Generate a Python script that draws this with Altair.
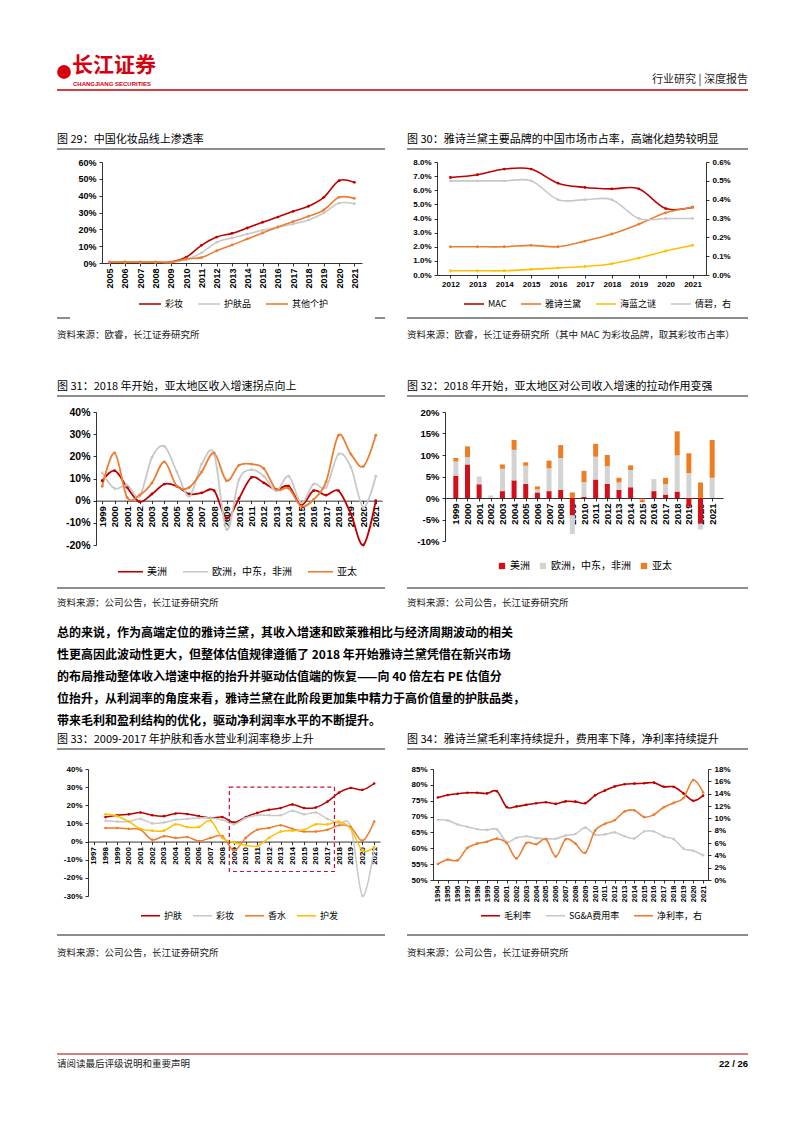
import altair as alt
import pandas as pd

FCN = "Noto Sans CJK SC"
FNUM = "Liberation Sans"
RED = "#C00000"
GRAY = "#C8C8C8"
ORANGE = "#ED7D31"
YELLOW = "#FFC000"
BAR_RED = "#D0101B"
BAR_GRAY = "#D3D3D3"
BAR_ORANGE = "#EE7D22"
INK = "#000000"

# ---------------- data ----------------
# 图29
years29 = list(range(2005, 2022))
names29 = ["彩妆", "护肤品", "其他个护"]
makeup29 = [0.5, 0.5, 0.5, 0.5, 0.5, 3.4, 10.5, 15.4, 17.6, 20.8, 24.2, 27.3, 30.7, 33.7, 39.0, 48.9, 47.9]
skin29 = [0.5, 0.5, 0.5, 0.5, 0.5, 2.0, 6.0, 12.3, 14.9, 17.2, 19.4, 21.2, 23.2, 25.5, 29.7, 35.6, 35.2]
care29 = [0.5, 0.5, 0.5, 0.5, 0.5, 2.4, 3.2, 7.3, 10.7, 14.3, 17.8, 21.4, 24.6, 27.7, 31.5, 39.0, 38.4]

# 图30
years30 = list(range(2012, 2022))
names30 = ["MAC", "雅诗兰黛", "海蓝之谜", "倩碧，右"]
mac30 = [6.9, 7.1, 7.5, 7.5, 6.5, 6.2, 6.1, 6.1, 4.7, 4.8]
el30 = [2.0, 2.0, 2.0, 2.1, 2.0, 2.4, 2.9, 3.6, 4.4, 4.8]
lamer30 = [0.3, 0.3, 0.3, 0.4, 0.5, 0.6, 0.8, 1.2, 1.7, 2.1]
clinique30 = [0.5, 0.5, 0.5, 0.5, 0.4, 0.4, 0.4, 0.3, 0.3, 0.3]

# 图31
years31 = list(range(1999, 2022))
names31 = ["美洲", "欧洲，中东，非洲", "亚太"]
am31 = [9, 13.5, 6, -0.5, 3, 7.5, 6.5, 3, 3.5, 4.5, -8, 1, 10.5, 8, 5, 6.5, -2, 4.5, 2.5, 4.5, -6, -20, 0]
eu31 = [12.5, 5.5, 7, 2, 19.5, 24.5, 13, 2, 16.5, 21, -13, 9.5, 14, 11, 4.5, 11, -1, 7.5, 6, 21, 15, -3, 11]
ap31 = [6.5, 21.5, 1.5, 2.5, 8, 17.5, 6.5, 6, 13, 21.5, 9, 16, 16.5, 14.5, 5, 5.5, -2.5, 0.5, 8.5, 29.5, 21, 15.5, 29.5]

# 图32
years32 = list(range(1999, 2022))
names32 = ["美洲", "欧洲，中东，非洲", "亚太"]
am32 = [5.2, 7.8, 3.2, 0, 1.6, 4.1, 3.3, 1.3, 1.6, 1.9, -4.0, 0.3, 4.3, 3.3, 1.9, 2.5, -0.3, 1.6, 0.8, 1.5, -2.0, -6.0, 0]
eu32 = [3.3, 1.7, 1.8, 0.6, 5.2, 7.1, 4.2, 0.7, 5.3, 7.4, -4.4, 3.4, 5.3, 4.1, 1.7, 4.0, -0.2, 2.8, 2.4, 8.4, 5.8, -1.3, 4.7]
ap32 = [0.8, 2.5, 0, 0, 1.0, 2.3, 0.8, 0.7, 1.8, 3.0, 1.3, 2.6, 3.0, 2.6, 1.1, 1.1, -0.5, 0, 1.5, 5.6, 4.6, 3.6, 8.8]

# 图33
years33 = list(range(1997, 2022))
names33 = ["护肤", "彩妆", "香水", "护发"]
skin33 = [None, 13.5, 14.5, 15, 16, 14.5, 14, 15.5, 15.2, 14, 13, 13.5, 10.5, 13.5, 15.8, 17.5, 18.5, 20.5, 18.5, 18.8, 22, 27, 29.5, 28.5, 32]
makeup33 = [None, 11.5, 11, 11, 12.5, 10, 10.5, 12, 12.5, 13, 13, 12, 9.5, 13, 14.5, 14.5, 14.5, 17, 15, 16, 12.5, 10, 8, -30, -4]
perfume33 = [None, 7.5, 7.5, 7, 6.5, 1, 3, 2, 2.5, 0.3, 2, 3, -5, 2, 6.5, 7.5, 9, 7, 5.5, 5.5, 6.5, 9, 8, 0.5, 11]
hair33 = [None, 15, 14, 11, 7, 6, 6, 9.5, 8, 8, 11.5, 2, -0.5, -2, -2.5, 2, 5.5, 6, 6.5, 9.5, 9.5, 11, 7, -5, -3]
box33_years = [2008.6, 2017.6]
box33_vals = [30, -16.5]

# 图34
years34 = list(range(1994, 2022))
names34 = ["毛利率", "SG&A费用率", "净利率，右"]
gm34 = [76, 76.8, 77.2, 77.5, 77.5, 77.3, 78, 73, 73.2, 73.7, 74.2, 74.5, 74, 74.8, 74.7, 74.2, 76.7, 78.2, 79.5, 80.2, 80.4, 80.5, 80.7, 79.4, 79.4, 77.3, 75, 76.6]
sga34 = [69, 68.8, 67.5, 66.8, 66, 65.8, 66, 62, 63.3, 63.8, 63.2, 63, 63, 64, 64.5, 66.5, 64.3, 64.4, 65, 63.8, 63.1, 65.3, 65.3, 63.7, 62.9, 59.9, 59.2, 57.8]
np34 = [2.6, 3.3, 3.2, 5.2, 5.9, 6.2, 6.7, 6.0, 3.5, 6.0, 5.8, 6.6, 3.8, 6.6, 5.9, 4.4, 8.0, 9.1, 9.7, 11.1, 11.3, 10.2, 10.6, 11.8, 12.5, 13.3, 16.2, 14.2]

# texts
para_lines = [
    "总的来说，作为高端定位的雅诗兰黛，其收入增速和欧莱雅相比与经济周期波动的相关",
    "性更高因此波动性更大，但整体估值规律遵循了 2018 年开始雅诗兰黛凭借在新兴市场",
    "的布局推动整体收入增速中枢的抬升并驱动估值端的恢复——向 40 倍左右 PE 估值分",
    "位抬升，从利润率的角度来看，雅诗兰黛在此阶段更加集中精力于高价值量的护肤品类，",
    "带来毛利和盈利结构的优化，驱动净利润率水平的不断提升。",
]

DUMMY = pd.DataFrame({"d": [0]})


def long(years, names, arrays):
    rows = []
    for name, vals in zip(names, arrays):
        for yv, v in zip(years, vals):
            if v is not None:
                rows.append({"year": yv, "v": v, "s": name})
    return pd.DataFrame(rows)


def txt(s, x, y, size=9.5, align="left", weight="normal", color=INK, font=FCN):
    return alt.Chart(DUMMY).mark_text(
        text=s, align=align, baseline="middle", fontSize=size, fontWeight=weight, color=color, font=font
    ).encode(x=alt.value(x), y=alt.value(y))


def hline(x1, x2, y, color=INK, w=1.0):
    return alt.Chart(DUMMY).mark_rule(color=color, strokeWidth=w).encode(
        x=alt.value(x1), x2=alt.value(x2), y=alt.value(y)
    )


def frame(top, bottom):
    # invisible vertical rule that fixes the extent of a row (bounds = [top, bottom])
    return alt.Chart(DUMMY).mark_rule(color="white", strokeWidth=1).encode(
        x=alt.value(1), y=alt.value(top + 1), y2=alt.value(bottom - 1)
    )


def spacer(w, h=1):
    return alt.Chart(DUMMY).mark_text(text=" ").encode(x=alt.value(0), y=alt.value(0)).properties(width=w, height=h)


def lead(w, top, bottom):
    return frame(top, bottom).properties(width=w, height=1)


def xenc(lo, hi, years, size, angle=270, offset=None):
    ax = dict(values=years, format="d", title=None, grid=False, labelAngle=angle, labelFontSize=size,
              labelFont=FNUM, labelFontWeight="bold", labelColor=INK, domainColor="#000", tickColor="#000",
              tickSize=3, labelOverlap=False, labelFlush=False, labelPadding=2, domainWidth=0.8, tickWidth=0.8)
    if angle == 270:
        ax.update(labelAlign="right", labelBaseline="middle")
    if offset is not None:
        ax["offset"] = offset
    return alt.X("year:Q", scale=alt.Scale(domain=[lo, hi], nice=False, zero=False), axis=alt.Axis(**ax))


def yenc(lo, hi, vals, size, orient="left", dec=0):
    expr = "datum.value + '%'" if dec == 0 else "format(datum.value, '.1f') + '%'"
    ax = alt.Axis(values=vals, labelExpr=expr, orient=orient, title=None, grid=False, labelFontSize=size,
                  labelFont=FNUM, labelFontWeight="bold", labelColor=INK, domainColor="#000", tickColor="#000",
                  tickSize=3, labelPadding=3, domainWidth=0.8, tickWidth=0.8)
    return alt.Y("v:Q", scale=alt.Scale(domain=[lo, hi], nice=False, zero=False), axis=ax)


def leg(x, y, size=9, colpad=10, stype="stroke", ssize=400):
    return alt.Legend(orient="none", legendX=x, legendY=y, direction="horizontal", title=None,
                      symbolType=stype, symbolSize=ssize, symbolStrokeWidth=1.6, labelFont=FCN,
                      labelFontSize=size, labelColor=INK, columnPadding=colpad, labelOffset=3)


def deco(title, tx, ty, lx2, uy, by, src, sy, bottom_segments=None):
    items = [txt(title, tx, ty, size=11), hline(tx, lx2, uy, w=0.9)]
    if bottom_segments is None:
        items.append(hline(tx, lx2, by, w=0.9))
    else:
        for a, b in bottom_segments:
            items.append(hline(a, b, by, w=0.9))
    items.append(txt(src, tx, sy, size=9.5, color="#222"))
    return items


def lines(df, x, y, color, width=1.6, psize=8):
    return alt.Chart(df).mark_line(interpolate="cardinal", strokeWidth=width,
                                   point=alt.OverlayMarkDef(filled=True, size=psize)).encode(
        x=x, y=y, color=color)


def indep(c):
    return c.resolve_scale(color="independent").resolve_legend(color="independent")


# ---------------- 图29 ----------------
df29 = long(years29, names29, [makeup29, skin29, care29])
l29 = lines(df29, xenc(2004.5, 2021.5, years29, 9), yenc(0, 60, list(range(0, 61, 10)), 9),
            alt.Color("s:N", scale=alt.Scale(domain=names29, range=[RED, GRAY, ORANGE]),
                      legend=leg(36, 130, size=9, colpad=10, ssize=480)))
p29 = alt.layer(
    l29,
    *deco("图 29：中国化妆品线上渗透率", -45, -22, 283, -13, 156, "资料来源：欧睿，长江证券研究所", 173,
          bottom_segments=[(-45, -32), (273, 283)])
).properties(width=260, height=101)

# ---------------- 图30 ----------------
df30l = long(years30, names30[:3], [mac30, el30, lamer30])
df30r = long(years30, names30[3:], [clinique30])
col30 = alt.Color("s:N", scale=alt.Scale(domain=names30, range=[RED, ORANGE, YELLOW, GRAY]),
                  legend=leg(26, 131, size=9, colpad=10, ssize=400))
x30 = xenc(2011.5, 2021.5, years30, 8, angle=0)
l30 = lines(df30l, x30, yenc(0, 8, list(range(0, 9)), 8, dec=1), col30)
r30 = lines(df30r, x30, yenc(0, 0.6, [0, 0.1, 0.2, 0.3, 0.4, 0.5, 0.6], 8, orient="right", dec=1), col30)
p30 = alt.layer(
    alt.layer(l30, r30).resolve_scale(y="independent"),
    *deco("图 30：雅诗兰黛主要品牌的中国市场市占率，高端化趋势较明显", -30, -22, 311, -13, 156,
          "资料来源：欧睿，长江证券研究所（其中 MAC 为彩妆品牌，取其彩妆市占率）", 173)
).properties(width=269, height=113)

# ---------------- 图31 ----------------
H31 = 133
df31 = long(years31, names31, [am31, eu31, ap31])
l31 = lines(df31, xenc(1998.5, 2021.5, years31, 9.5, offset=-(H31 * 20 / 60)),
            yenc(-20, 40, list(range(-20, 41, 10)), 10.5),
            alt.Color("s:N", scale=alt.Scale(domain=names31, range=[RED, GRAY, ORANGE]),
                      legend=leg(21, 146, size=10, colpad=12, ssize=625)), width=1.8)
p31 = alt.layer(
    l31,
    *deco("图 31：2018 年开始，亚太地区收入增速拐点向上", -39, -25, 289, -16, 176,
          "资料来源：公司公告，长江证券研究所", 191)
).properties(width=286, height=H31)

# ---------------- 图32 ----------------
H32 = 129
rows32 = []
for i, (nm, arr) in enumerate(zip(names32, [am32, eu32, ap32])):
    for yv, v in zip(years32, arr):
        rows32.append({"year": yv, "v": v, "s": nm, "o": i})
df32 = pd.DataFrame(rows32)
b32 = alt.Chart(df32).mark_bar(size=5).encode(
    x=xenc(1998.5, 2021.5, years32, 9.5, offset=-(H32 * 10 / 30)),
    y=alt.Y("v:Q", stack="zero", scale=alt.Scale(domain=[-10, 20], nice=False, zero=False),
            axis=alt.Axis(values=[-10, -5, 0, 5, 10, 15, 20], labelExpr="datum.value + '%'", title=None,
                          grid=False, labelFontSize=9.5, labelFont=FNUM, labelFontWeight="bold",
                          labelColor=INK, domainColor="#000", tickColor="#000", tickSize=3,
                          labelPadding=3, domainWidth=0.8, tickWidth=0.8)),
    color=alt.Color("s:N", scale=alt.Scale(domain=names32, range=[BAR_RED, BAR_GRAY, BAR_ORANGE]),
                    legend=leg(52, 149, size=10, colpad=8, stype="square", ssize=40)),
    order=alt.Order("o:Q"),
)
p32 = alt.layer(
    b32,
    *deco("图 32：2018 年开始，亚太地区对公司收入增速的拉动作用变强", -38, -25, 303, -16, 176,
          "资料来源：公司公告，长江证券研究所", 191)
).properties(width=278, height=H32)

# ---------------- 图33 ----------------
H33 = 127
df33 = long(years33, names33, [skin33, makeup33, perfume33, hair33])
x33 = xenc(1996.5, 2021.5, years33, 8, offset=-(H33 * 30 / 70))
y33 = yenc(-30, 40, list(range(-30, 41, 10)), 8)
l33 = lines(df33, x33, y33,
            alt.Color("s:N", scale=alt.Scale(domain=names33, range=[RED, GRAY, ORANGE, YELLOW]),
                      legend=leg(52, 136, size=9, colpad=6, ssize=360)), width=1.5, psize=7)
box33 = alt.Chart(pd.DataFrame({"year": [box33_years[0]], "year2": [box33_years[1]],
                                "v": [box33_vals[0]], "v2": [box33_vals[1]]})).mark_rect(
    fillOpacity=0, stroke="#C8102E", strokeWidth=1.2, strokeDash=[4, 3]).encode(
    x=x33, x2="year2:Q", y=y33, y2="v2:Q")
p33 = alt.layer(
    l33, box33,
    *deco("图 33：2009-2017 年护肤和香水营业利润率稳步上升", -31, -29, 297, -20, 166,
          "资料来源：公司公告，长江证券研究所", 184)
).properties(width=292, height=H33)

# ---------------- 图34 ----------------
df34l = long(years34, names34[:2], [gm34, sga34])
df34r = long(years34, names34[2:], [np34])
col34 = alt.Color("s:N", scale=alt.Scale(domain=names34, range=[RED, GRAY, ORANGE]),
                  legend=leg(47, 136, size=9, colpad=10, ssize=360))
x34 = xenc(1993.5, 2021.5, years34, 7.5)
l34 = lines(df34l, x34, yenc(50, 85, list(range(50, 86, 5)), 8), col34, psize=7)
r34 = lines(df34r, x34, yenc(0, 18, list(range(0, 19, 2)), 8, orient="right"), col34, psize=7)
p34 = alt.layer(
    alt.layer(l34, r34).resolve_scale(y="independent"),
    *deco("图 34：雅诗兰黛毛利率持续提升，费用率下降，净利率持续提升", -26, -29, 315, -20, 166,
          "资料来源：公司公告，长江证券研究所", 184)
).properties(width=275, height=111)

# ---------------- header / paragraph / footer ----------------
header = alt.layer(
    frame(0, 120),
    alt.Chart(DUMMY).mark_point(filled=True, size=190, color="#D7000F", opacity=1).encode(
        x=alt.value(56), y=alt.value(64)),
    txt("长江证券", 64, 58, size=21, weight="bold", color="#D7000F"),
    txt("CHANGJIANG SECURITIES", 65, 76, size=6, weight="bold", color="#D7000F", font=FNUM),
    txt("行业研究 | 深度报告", 740, 72, size=11, align="right", color="#222"),
    hline(49, 740, 82, color="#C00000", w=1.6),
).properties(width=778, height=120)

para = alt.layer(
    frame(0, 120),
    *[txt(s, 49, 21 + 22 * i, size=12, weight="bold") for i, s in enumerate(para_lines)]
).properties(width=778, height=120)

footer = alt.layer(
    frame(0, 150),
    hline(49, 740, 90, color="#A00000", w=1.0),
    txt("请阅读最后评级说明和重要声明", 49, 100, size=9.5, color="#222"),
    txt("22 / 26", 740, 100, size=9.5, align="right", weight="bold", font=FNUM),
).properties(width=778, height=150)

row1 = indep(alt.hconcat(lead(94, -34, 182), p29, spacer(75), p30, spacing=0, bounds="flush"))
row2 = indep(alt.hconcat(lead(88, -68, 200), p31, spacer(63), p32, spacing=0, bounds="flush"))
row3 = indep(alt.hconcat(lead(80, -37, 195), p33, spacer(53), p34, spacing=0, bounds="flush"))

chart = indep(alt.vconcat(header, row1, row2, para, row3, footer, spacing=0))
chart = chart.properties(padding=0, background="white").configure_view(strokeWidth=0)

chart.save("out.html", embed_options={"renderer": "svg", "actions": False})
